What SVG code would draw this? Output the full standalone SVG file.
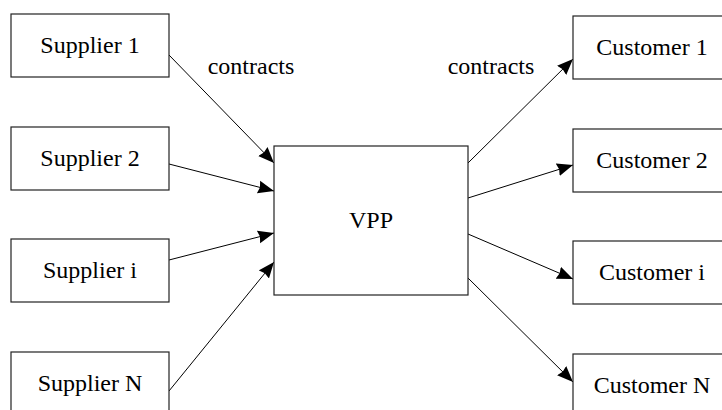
<svg xmlns="http://www.w3.org/2000/svg" width="722" height="410" viewBox="0 0 722 410">
<style>
.box{fill:#fff;stroke:#222;stroke-width:1.2}
.t{font-family:"Liberation Serif","Times New Roman",serif;font-size:24px;fill:#000;text-anchor:middle}
.c{stroke:#000;stroke-width:1;fill:none;marker-end:url(#ah)}
</style>
<defs>
<marker id="ah" markerUnits="userSpaceOnUse" markerWidth="17" markerHeight="14" refX="16" refY="6.5" orient="auto" viewBox="0 0 17 13">
<path d="M0,0 L16,6.5 L0,13 L1.5,6.5 z" fill="#000"/>
</marker>
</defs>
<rect width="722" height="410" fill="#fff"/>
<g id="connectors">
<line class="c" x1="169" y1="55" x2="274" y2="163"/>
<line class="c" x1="169" y1="164" x2="274" y2="191"/>
<line class="c" x1="169" y1="260" x2="274" y2="233"/>
<line class="c" x1="169" y1="391" x2="274" y2="262"/>
<line class="c" x1="468" y1="163" x2="573" y2="59"/>
<line class="c" x1="468" y1="198" x2="573" y2="165"/>
<line class="c" x1="468" y1="234" x2="573" y2="279"/>
<line class="c" x1="468" y1="278" x2="573" y2="382"/>
</g>
<g id="label-left"><text class="t" x="251" y="74">contracts</text></g>
<g id="label-right"><text class="t" x="491" y="74">contracts</text></g>
<g id="supplier1"><rect class="box" x="11" y="14" width="158" height="63"/><text class="t" x="90" y="53">Supplier 1</text></g>
<g id="supplier2"><rect class="box" x="11" y="127" width="158" height="63"/><text class="t" x="90" y="166">Supplier 2</text></g>
<g id="supplieri"><rect class="box" x="11" y="239" width="158" height="63"/><text class="t" x="90" y="278">Supplier i</text></g>
<g id="supplierN"><rect class="box" x="11" y="352" width="158" height="63"/><text class="t" x="90" y="391">Supplier N</text></g>
<g id="vpp"><rect class="box" x="274" y="146" width="194" height="149"/><text class="t" x="371" y="228">VPP</text></g>
<g id="customer1"><rect class="box" x="573" y="16" width="158" height="63"/><text class="t" x="652" y="55">Customer 1</text></g>
<g id="customer2"><rect class="box" x="573" y="129" width="158" height="63"/><text class="t" x="652" y="168">Customer 2</text></g>
<g id="customeri"><rect class="box" x="573" y="241" width="158" height="63"/><text class="t" x="652" y="280">Customer i</text></g>
<g id="customerN"><rect class="box" x="573" y="354" width="158" height="63"/><text class="t" x="652" y="393">Customer N</text></g>
</svg>
